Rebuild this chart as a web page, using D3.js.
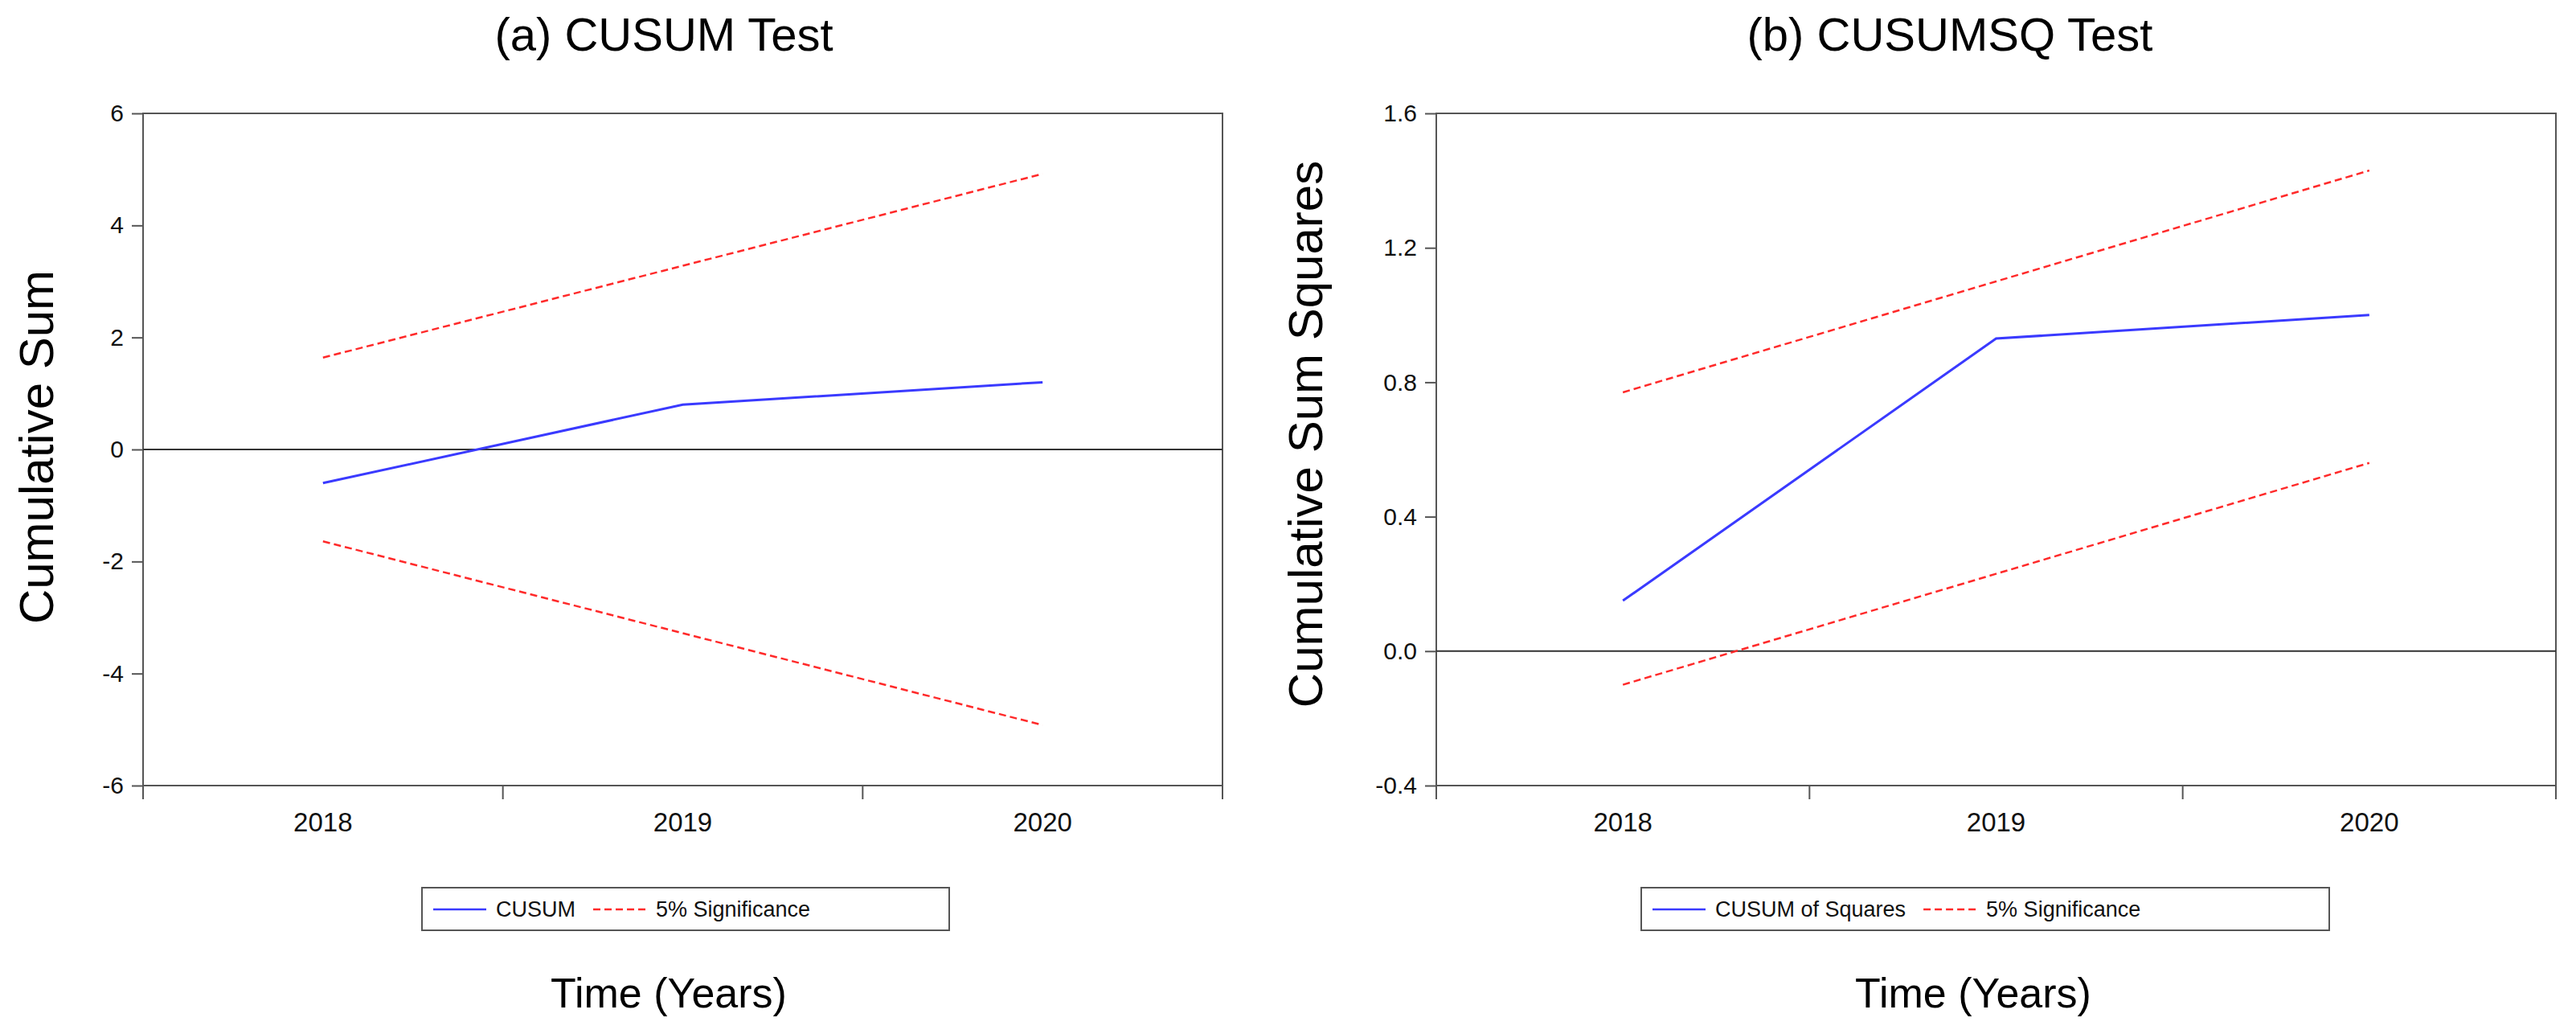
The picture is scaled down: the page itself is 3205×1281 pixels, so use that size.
<!DOCTYPE html>
<html>
<head>
<meta charset="utf-8">
<script src="https://cdn.jsdelivr.net/npm/d3@7"></script>
<style>
  body { margin: 0; background: #fff; }
  svg { display: block; font-family: "Liberation Sans", Arial, sans-serif; }
</style>
</head>
<body>
<svg id="chart" width="3205" height="1281"></svg>
<script>
// x categories
const years = ["2018", "2019", "2020"];

// (a) CUSUM test
const cusum = [-0.6, 0.8, 1.2];
const cusumUpper = [1.64, 3.28, 4.92];
const cusumLower = [-1.64, -3.28, -4.92];
const cusumTicks = [-6, -4, -2, 0, 2, 4, 6];

// (b) CUSUM of squares test
const cusumsq = [0.15, 0.93, 1.0];
const cusumsqUpper = [0.77, 1.10, 1.43];
const cusumsqLower = [-0.10, 0.23, 0.56];
const cusumsqTicks = [-0.4, 0.0, 0.4, 0.8, 1.2, 1.6];

const svg = d3.select("#chart");

function drawPanel(p) {
  const x = d3.scaleBand().domain(years).range([p.left, p.right]).padding(0);
  const y = d3.scaleLinear().domain(p.domain).range([p.bottom, p.top]);
  const g = svg.append("g");
  const cx = d => x(d) + x.bandwidth() / 2;

  // title
  g.append("text")
    .attr("x", p.titleX).attr("y", 63)
    .attr("text-anchor", "middle")
    .attr("font-size", 58)
    .text(p.title);

  // y axis
  const yAxis = d3.axisLeft(y)
    .tickValues(p.ticks)
    .tickSize(14)
    .tickPadding(10)
    .tickFormat(d => p.fmt(d).replace("\u2212", "-"));
  const ya = g.append("g").attr("transform", `translate(${p.left},0)`).call(yAxis);
  ya.select(".domain").remove();
  ya.selectAll("line").attr("stroke", "#555").attr("stroke-width", 2);
  ya.selectAll("text").attr("font-size", 30).attr("font-family", "Liberation Sans, Arial").attr("fill", "#111");

  // frame
  g.append("rect")
    .attr("x", p.left).attr("y", p.top)
    .attr("width", p.right - p.left).attr("height", p.bottom - p.top)
    .attr("fill", "none").attr("stroke", "#555").attr("stroke-width", 2);

  // x ticks at band edges, labels at band centres
  const edges = years.map(d => x(d)).concat([p.right]);
  g.selectAll(".xtick").data(edges).join("line")
    .attr("x1", d => d).attr("x2", d => d)
    .attr("y1", p.bottom).attr("y2", p.bottom + 17)
    .attr("stroke", "#555").attr("stroke-width", 2);
  g.selectAll(".xlab").data(years).join("text")
    .attr("x", cx).attr("y", p.bottom + 57)
    .attr("text-anchor", "middle")
    .attr("font-size", 33).attr("fill", "#111")
    .text(d => d);

  // zero line
  g.append("line")
    .attr("x1", p.left).attr("x2", p.right)
    .attr("y1", y(0)).attr("y2", y(0))
    .attr("stroke", "#333").attr("stroke-width", 2);

  const line = d3.line().x((d, i) => cx(years[i])).y(d => y(d));

  [p.upper, p.lower].forEach(s => {
    g.append("path").attr("d", line(s))
      .attr("fill", "none").attr("stroke", "#ff2a2a")
      .attr("stroke-width", 2.5).attr("stroke-dasharray", "9,5");
  });
  g.append("path").attr("d", line(p.main))
    .attr("fill", "none").attr("stroke", "#3a3aff").attr("stroke-width", 3);

  // y title
  g.append("text")
    .attr("transform", `translate(${p.yTitleX},${p.yTitleY}) rotate(-90)`)
    .attr("text-anchor", "middle")
    .attr("font-size", 60)
    .text(p.yTitle);

  // legend
  const lg = g.append("g").attr("transform", `translate(${p.legX},1104)`);
  lg.append("rect").attr("width", p.legW).attr("height", 53)
    .attr("fill", "none").attr("stroke", "#555").attr("stroke-width", 2);
  let lx = 14;
  p.legItems.forEach(it => {
    lg.append("line").attr("x1", lx).attr("x2", lx + 66)
      .attr("y1", 27).attr("y2", 27)
      .attr("stroke", it.color).attr("stroke-width", 2.5)
      .attr("stroke-dasharray", it.dash ? "9,5" : null);
    const t = lg.append("text").attr("x", lx + 78).attr("y", 36)
      .attr("font-size", 27).attr("fill", "#111").text(it.label);
    lx += 78 + t.node().getComputedTextLength() + 22;
  });

  // x title
  g.append("text")
    .attr("x", p.xTitleX).attr("y", 1253)
    .attr("text-anchor", "middle")
    .attr("font-size", 52)
    .text("Time (Years)");
}

drawPanel({
  left: 178, right: 1521, top: 141, bottom: 977,
  domain: [-6, 6], ticks: cusumTicks, fmt: d3.format("d"),
  main: cusum, upper: cusumUpper, lower: cusumLower,
  title: "(a) CUSUM Test", titleX: 826,
  yTitle: "Cumulative Sum", yTitleX: 66, yTitleY: 556,
  legX: 525, legW: 656,
  legItems: [
    { label: "CUSUM", color: "#3a3aff" },
    { label: "5% Significance", color: "#ff2a2a", dash: true }
  ],
  xTitleX: 832
});

drawPanel({
  left: 1787, right: 3180, top: 141, bottom: 977,
  domain: [-0.4, 1.6], ticks: cusumsqTicks, fmt: d3.format(".1f"),
  main: cusumsq, upper: cusumsqUpper, lower: cusumsqLower,
  title: "(b) CUSUMSQ Test", titleX: 2426,
  yTitle: "Cumulative Sum Squares", yTitleX: 1645, yTitleY: 540,
  legX: 2042, legW: 856,
  legItems: [
    { label: "CUSUM of Squares", color: "#3a3aff" },
    { label: "5% Significance", color: "#ff2a2a", dash: true }
  ],
  xTitleX: 2455
});
</script>
</body>
</html>
